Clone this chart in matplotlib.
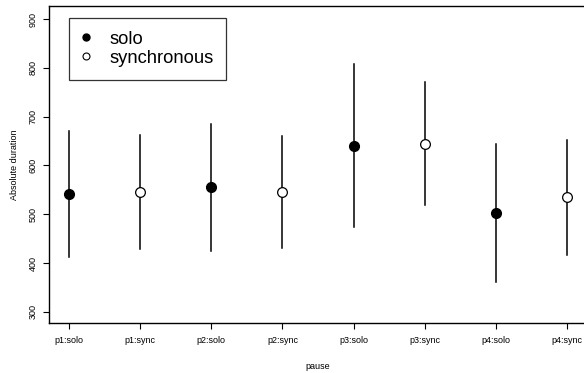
import matplotlib.pyplot as plt
import numpy as np

plt.rcParams['font.family'] = ['Liberation Sans', 'DejaVu Sans']

# data (means with error bar ends)
labels = ['p1:solo', 'p1:sync', 'p2:solo', 'p2:sync',
          'p3:solo', 'p3:sync', 'p4:solo', 'p4:sync']
means = [541, 545, 556, 545, 640, 645, 503, 535]
upper = [670, 662, 686, 661, 808, 771, 644, 652]
lower = [412, 429, 425, 430, 473, 519, 361, 417]
kind = ['solo', 'sync'] * 4

x = np.arange(1, len(labels) + 1)

fig = plt.figure(figsize=(5.84, 3.73), dpi=100)
W, H = 584, 373
# axes box runs past the right edge of the figure (cropped like the original)
ax = fig.add_axes([49 / W, (H - 323) / H, (587 - 49) / W, (323 - 6) / H])

for xi, m, lo, hi, k in zip(x, means, lower, upper, kind):
    ax.plot([xi, xi], [lo, hi], color='black', lw=1.1, zorder=1)
    if k == 'solo':
        ax.plot(xi, m, 'o', ms=7, mfc='black', mec='black', zorder=2)
    else:
        ax.plot(xi, m, 'o', ms=7, mfc='white', mec='black', mew=0.9, zorder=2)

ax.set_xlim(0.72, 8.28)
ax.set_ylim(277, 927)
ax.set_xticks(x)
ax.set_xticklabels(labels, fontsize=6.5)
ax.set_yticks(np.arange(300, 901, 100))
ax.set_yticklabels([str(v) for v in range(300, 901, 100)], fontsize=6.5,
                   rotation=90, va='center')
ax.tick_params(length=4.3, width=0.8, pad=5)
ax.tick_params(axis='y', pad=4)
ax.set_xlabel('pause', fontsize=6.5, labelpad=12)
ax.set_ylabel('Absolute duration', fontsize=6.5, labelpad=7)
for s in ax.spines.values():
    s.set_linewidth(1.0)

# legend box like R's legend()
h1, = ax.plot([], [], 'o', ms=5, mfc='black', mec='black', ls='none')
h2, = ax.plot([], [], 'o', ms=5, mfc='white', mec='black', mew=0.8, ls='none')
leg = ax.legend([h1, h2], ['solo', 'synchronous'], loc='upper left',
                bbox_to_anchor=((69 - 49) / (587 - 49), 1 - (18 - 6) / (323 - 6)),
                fontsize=13.2, frameon=True, fancybox=False, edgecolor='black',
                borderpad=0.7, handletextpad=1.1, labelspacing=0.1,
                borderaxespad=0, handlelength=0.4)
leg.get_frame().set_linewidth(0.9)

fig.savefig('out.png', dpi=100)
